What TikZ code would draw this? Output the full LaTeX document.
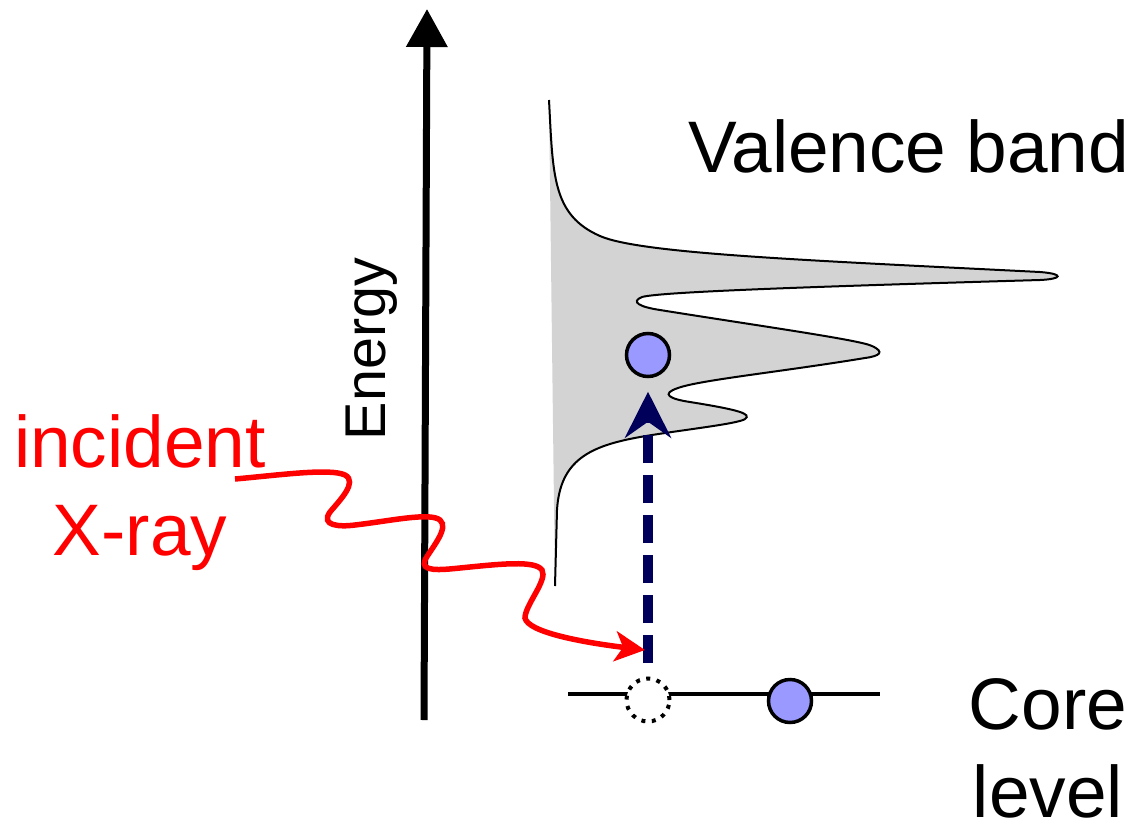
\documentclass[tikz,border=0pt]{standalone}
\usepackage{fontspec}
\setmainfont{Liberation Sans}
\usetikzlibrary{arrows.meta, positioning}
\definecolor{bandgray}{RGB}{211,211,211}
\definecolor{elecblue}{RGB}{153,153,255}
\definecolor{navyarrow}{RGB}{0,0,90}
\newcommand{\bandpath}{(549,100)
  .. controls (553,175) and (552,215) .. (600,236)
  .. controls (640,253.5) and (800,260) .. (1040,272)
  .. controls (1065,274) and (1062,279) .. (1040,280)
  .. controls (800,287) and (660,292) .. (642,297)
  .. controls (630,302) and (640,307) .. (660,310)
  .. controls (760,326) and (860,340) .. (872,346)
  .. controls (885,352) and (880,356) .. (865,358)
  .. controls (780,372) and (700,380) .. (678,388)
  .. controls (660,394) and (670,399) .. (690,402)
  .. controls (740,410) and (752,414) .. (745,419)
  .. controls (738,424) and (680,430) .. (640,437)
  .. controls (590,446) and (560,460) .. (557,510)
  -- (555,586)}
\tikzset{
    biglabel/.style={font=\fontsize{73}{88}\selectfont, align=center, inner sep=0pt},
    electron/.style={circle, draw, line width=3.5pt, fill=elecblue, minimum size=43pt, inner sep=0pt},
    hole/.style={circle, draw, line width=4pt, dash pattern=on 4pt off 6.5pt, fill=white, minimum size=43pt, inner sep=0pt},
    axisarrow/.style={-{Triangle[length=38pt,width=40pt]}, line width=7pt},
    xray/.style={-{Stealth[length=30pt,width=30pt,inset=8pt]}, line width=5.5pt, red},
    excite/.style={-{Stealth[length=46pt,width=46pt,inset=16pt]}, line width=10pt, navyarrow, dash pattern=on 28pt off 12pt},
    corelevel/.style={line width=4pt},
    band/.style={line width=2pt}
}

\begin{document}
\begin{tikzpicture}[x=1pt, y=-1pt]
    \useasboundingbox (0,0) rectangle (1141,822);

    % valence band
    \fill[bandgray] \bandpath -- cycle;
    \draw[band] \bandpath;

    % energy axis
    \coordinate (ebot) at (424,720);
    \coordinate (etop) at (427,9);
    \draw[axisarrow] (ebot) -- (etop);
    \node (energy) [rotate=90, anchor=base, font=\fontsize{57.5}{60}\selectfont, inner sep=0pt] at (385,349) {Energy};

    % core level
    \coordinate (corel) at (568,694);
    \coordinate (corer) at (880,694);
    \draw[corelevel] (corel) -- (corer);
    \node (hole) [hole] at (648,700) {};
    \node (core) [electron] at (790,701) {};
    \node (exc) [electron] at (648,355) {};

    \draw[excite, shorten <=13.5pt, shorten >=13.5pt] (hole) -- (exc);

    % labels
    \node (valence) [biglabel, anchor=base west] at (688,172) {Valence band};
    \node (corelabel) [biglabel, anchor=base] at (1048,817) {Core\\level};
    \node (incident) [biglabel, anchor=base, text=red] at (140,555) {incident\\X-ray};

    % incident x-ray
    \coordinate (xin) at (235,479);
    \coordinate (xout) at (645,650);
    \draw[xray] (xin) .. controls (280,475) and (330,468) .. (345,475)
        .. controls (358,482) and (340,500) .. (330,512)
        .. controls (320,526) and (340,527) .. (355,525)
        .. controls (390,521) and (430,512) .. (440,520)
        .. controls (450,528) and (430,550) .. (425,560)
        .. controls (420,572) and (440,570) .. (460,568)
        .. controls (500,564) and (535,560) .. (542,570)
        .. controls (548,580) and (525,605) .. (525,618)
        .. controls (528,632) and (580,642) .. (xout);
\end{tikzpicture}
\end{document}
